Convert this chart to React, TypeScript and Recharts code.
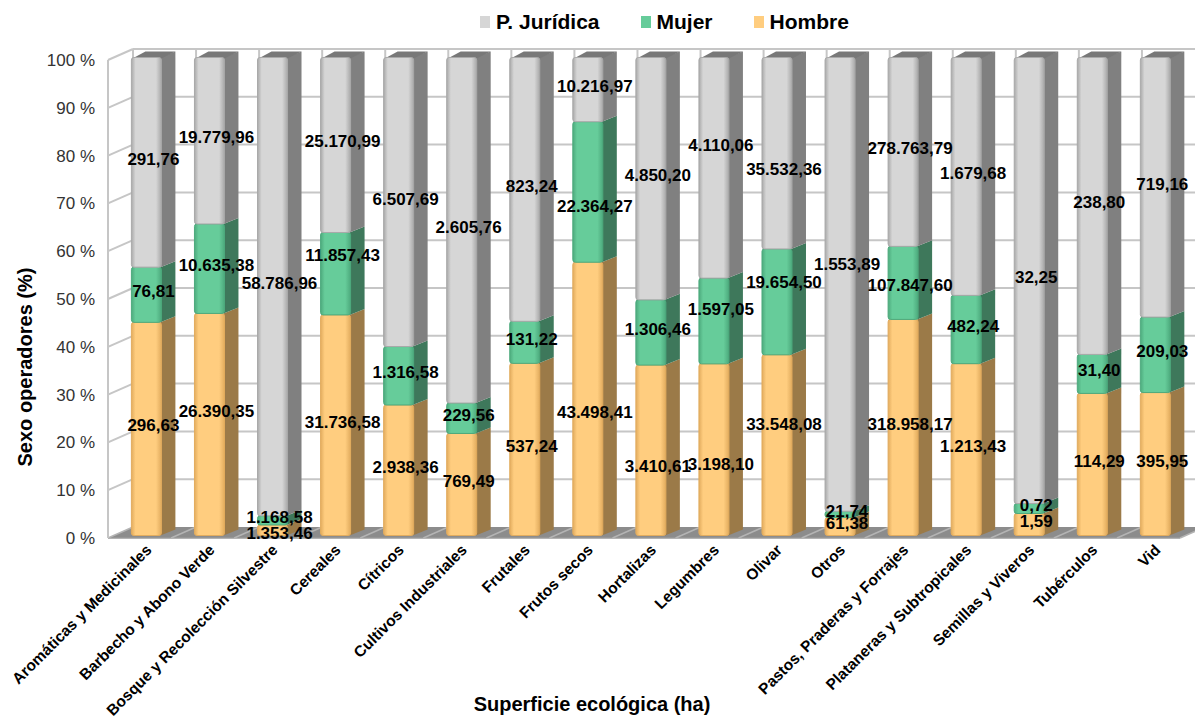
import { BarChart, Bar, XAxis, YAxis, CartesianGrid, LabelList, Label } from 'recharts';

const categories = [
  'Aromáticas y Medicinales',
  'Barbecho y Abono Verde',
  'Bosque y Recolección Silvestre',
  'Cereales',
  'Cítricos',
  'Cultivos Industriales',
  'Frutales',
  'Frutos secos',
  'Hortalizas',
  'Legumbres',
  'Olivar',
  'Otros',
  'Pastos, Praderas y Forrajes',
  'Plataneras y Subtropicales',
  'Semillas y Viveros',
  'Tubérculos',
  'Vid',
];

const hombre = [
  296.63, 26390.35, 1353.46, 31736.58, 2938.36, 769.49, 537.24, 43498.41, 3410.61,
  3198.1, 33548.08, 61.38, 318958.17, 1213.43, 1.59, 114.29, 395.95,
];
const mujer = [
  76.81, 10635.38, 1168.58, 11857.43, 1316.58, 229.56, 131.22, 22364.27, 1306.46,
  1597.05, 19654.5, 21.74, 107847.6, 482.24, 0.72, 31.4, 209.03,
];
const juridica = [
  291.76, 19779.96, 58786.96, 25170.99, 6507.69, 2605.76, 823.24, 10216.97, 4850.2,
  4110.06, 35532.36, 1553.89, 278763.79, 1679.68, 32.25, 238.8, 719.16,
];

const yTicks = [0, 0.1, 0.2, 0.3, 0.4, 0.5, 0.6, 0.7, 0.8, 0.9, 1];

const data = categories.map((name, i) => ({
  name,
  hombre: hombre[i],
  mujer: mujer[i],
  juridica: juridica[i],
}));

const SERIES = [
  { key: 'hombre', name: 'Hombre', front: '#ffcd7f', edge: '#e2ac5e', side: '#9b7a48' },
  { key: 'mujer', name: 'Mujer', front: '#66cc9a', edge: '#4daa7d', side: '#3e785b' },
  { key: 'juridica', name: 'P. Jurídica', front: '#d6d6d6', edge: '#a9a9a9', side: '#808080' },
];

// some value labels were dragged by hand in the original (px, vertical)
const LABEL_NUDGE: Record<string, number> = {
  'hombre-1': -10,
  'hombre-2': 6,
  'mujer-3': -15,
  'mujer-7': 18,
  'hombre-7': 17,
  'hombre-8': 19,
  'juridica-9': -19,
  'mujer-9': -8,
  'hombre-9': 18,
  'juridica-10': 19,
  'mujer-10': -16,
  'hombre-10': -18,
  'juridica-11': -17,
  'mujer-12': 6,
};

const FONT = '"Liberation Sans", Arial, sans-serif';

// bar sits a bit behind the front plane
const SHIFT_X = 6.4;
const SHIFT_Y = -2.5;
// bar depth
const DX = 14;
const DY = 6;
// wall depth
const WX = 25;
const WY = 11;

function fmt(v: number) {
  const [int, dec] = v.toFixed(2).split('.');
  const grouped = int.replace(/\B(?=(\d{3})+(?!\d))/g, '.');
  return `${grouped},${dec}`;
}

const makeShape = (s: (typeof SERIES)[number], isTop: boolean) => (props: any) => {
  const { x, y, width, height } = props;
  if (!height || height <= 0) return <g />;
  const fx = x + SHIFT_X;
  const fy = y + SHIFT_Y;
  const w = width;
  const h = height;
  return (
    <g>
      <polygon
        points={`${fx + w - 1},${fy} ${fx + w + DX},${fy - DY} ${fx + w + DX},${fy + h - DY} ${fx + w - 1},${fy + h}`}
        fill={s.side}
      />
      {isTop && (
        <polygon
          points={`${fx + 1},${fy + 1} ${fx + DX},${fy - DY} ${fx + w + DX},${fy - DY} ${fx + w},${fy + 1}`}
          fill="#787878"
        />
      )}
      <rect
        x={fx}
        y={fy}
        width={w}
        height={h}
        rx={2.5}
        fill={`url(#grad-${s.key})`}
        stroke={s.edge}
        strokeWidth={1}
      />
    </g>
  );
};

const makeValueLabel = (key: string) => (props: any) => {
  const vb = props.viewBox ?? props;
  const { x, y, width, height } = vb;
  const nudge = LABEL_NUDGE[`${key}-${props.index}`] ?? 0;
  const cx = x + width / 2 + SHIFT_X + DX / 2;
  const cy = y + height / 2 + SHIFT_Y - DY / 2 + nudge;
  return (
    <text
      x={cx}
      y={cy}
      textAnchor="middle"
      dominantBaseline="central"
      fontFamily={FONT}
      fontSize={17}
      fontWeight="bold"
      fill="#000"
    >
      {fmt(Number(props.value))}
    </text>
  );
};

const XTick = (props: any) => {
  const { x, y, payload } = props;
  const ax = x + 13;
  const ay = y + 13;
  return (
    <text
      x={ax}
      y={ay}
      transform={`rotate(-45 ${ax} ${ay})`}
      textAnchor="end"
      fontFamily={FONT}
      fontSize={15.5}
      fontWeight="bold"
      fill="#000"
    >
      {payload.value}
    </text>
  );
};

const GRID = '#c6c6c6';

const HLine = (props: any) => {
  const { x1, y1, x2, y, height } = props;
  const bottom = y + height;
  if (Math.abs(y1 - bottom) < 1) {
    return (
      <g>
        <polygon
          points={`${x1},${y1} ${x2},${y1} ${x2 + WX},${y1 - WY} ${x1 + WX},${y1 - WY}`}
          fill="#8c8c8c"
        />
        <line x1={x1} y1={y1} x2={x2} y2={y1} stroke="#9a9a9a" strokeWidth={1.5} />
      </g>
    );
  }
  return (
    <g>
      <line x1={x1} y1={y1} x2={x1 + WX} y2={y1 - WY} stroke={GRID} strokeWidth={2} />
      <line x1={x1 + WX} y1={y1 - WY} x2={x2 + WX} y2={y1 - WY} stroke={GRID} strokeWidth={2} />
    </g>
  );
};

const VLine = (props: any) => {
  const { x1, y1, y2 } = props;
  return (
    <g>
      <line x1={x1 + WX} y1={y1 - WY} x2={x1 + WX} y2={y2 - WY} stroke={GRID} strokeWidth={2} />
      <line x1={x1} y1={y2} x2={x1 + WX} y2={y2 - WY} stroke="#b4b4b4" strokeWidth={1.5} />
    </g>
  );
};

const boundaries = ({ offset }: any) =>
  categories.map((_c, i) => offset.left + (offset.width * i) / categories.length).concat(offset.left + offset.width);

export default function App() {
  return (
    <div style={{ position: 'absolute', left: 0, top: 0, width: 1195, height: 720, background: '#fff', fontFamily: FONT }}>
      <div
        style={{
          position: 'absolute',
          top: 10,
          left: 480,
          display: 'flex',
          alignItems: 'center',
          fontSize: 21,
          fontWeight: 'bold',
          color: '#000',
          zIndex: 2,
        }}
      >
        {[...SERIES].reverse().map((s) => (
          <div key={s.key} style={{ display: 'flex', alignItems: 'center', marginRight: 41 }}>
            <span style={{ width: 10, height: 12, background: s.front, display: 'inline-block', marginRight: 6 }} />
            <span>{s.name}</span>
          </div>
        ))}
      </div>
      <BarChart
        width={1195}
        height={720}
        data={data}
        stackOffset="expand"
        margin={{ top: 60, right: 15, bottom: 42, left: 8 }}
        barSize={30}
      >
        <defs>
          {SERIES.map((s) => (
            <linearGradient key={s.key} id={`grad-${s.key}`} x1="0" y1="0" x2="1" y2="0">
              <stop offset="0%" stopColor={s.edge} />
              <stop offset="14%" stopColor={s.front} />
              <stop offset="82%" stopColor={s.front} />
              <stop offset="100%" stopColor={s.edge} />
            </linearGradient>
          ))}
        </defs>
        <CartesianGrid horizontal={HLine} vertical={VLine} verticalCoordinatesGenerator={boundaries} />
        <XAxis
          dataKey="name"
          interval={0}
          tick={<XTick />}
          tickLine={false}
          axisLine={false}
          tickSize={0}
          tickMargin={0}
          height={140}
        >
          <Label
            content={() => (
              <text x={592} y={711} textAnchor="middle" fontFamily={FONT} fontSize={20} fontWeight="bold" fill="#000">
                Superficie ecológica (ha)
              </text>
            )}
          />
        </XAxis>
        <YAxis
          width={100}
          domain={[0, 1]}
          ticks={yTicks}
          tickFormatter={(v: number) => `${Math.round(v * 100)} %`}
          tick={{ fontSize: 17, fill: '#333', fontFamily: FONT }}
          tickLine={false}
          tickSize={0}
          tickMargin={13}
          axisLine={{ stroke: GRID, strokeWidth: 2 }}
        >
          <Label
            content={() => (
              <text
                x={25}
                y={367}
                transform="rotate(-90 25 367)"
                textAnchor="middle"
                dominantBaseline="central"
                fontFamily={FONT}
                fontSize={20}
                fontWeight="bold"
                fill="#000"
              >
                Sexo operadores (%)
              </text>
            )}
          />
        </YAxis>
        {SERIES.map((s, i) => (
          <Bar
            key={s.key}
            dataKey={s.key}
            name={s.name}
            stackId="a"
            fill={s.front}
            shape={makeShape(s, i === SERIES.length - 1)}
            isAnimationActive={false}
          >
            <LabelList dataKey={s.key} content={makeValueLabel(s.key)} />
          </Bar>
        ))}
      </BarChart>
    </div>
  );
}
